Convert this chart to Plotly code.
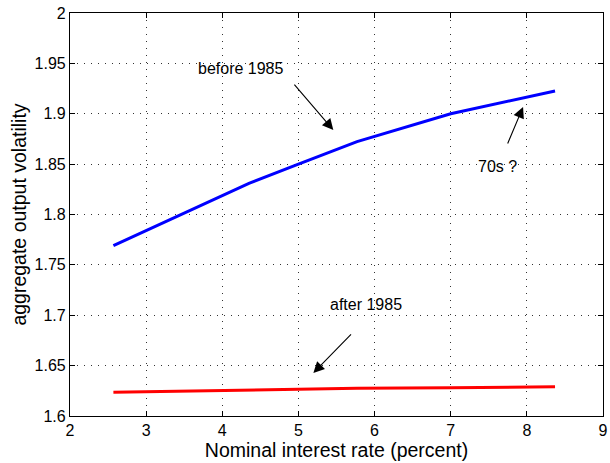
import plotly.graph_objects as go

# Data
before_x = [2.57, 3.0, 4.0, 4.35, 5.0, 5.77, 7.0, 8.0, 8.37]
before_y = [1.769, 1.784, 1.819, 1.831, 1.850, 1.8723, 1.900, 1.917, 1.9226]
after_x = [2.57, 4.0, 5.0, 5.77, 7.0, 8.37]
after_y = [1.6235, 1.625, 1.6265, 1.6275, 1.628, 1.629]

x_ticks = [2, 3, 4, 5, 6, 7, 8, 9]
y_ticks = [1.6, 1.65, 1.7, 1.75, 1.8, 1.85, 1.9, 1.95, 2.0]
y_labels = ["1.6", "1.65", "1.7", "1.75", "1.8", "1.85", "1.9", "1.95", "2"]

FONT = "Liberation Sans, Arial, Helvetica, sans-serif"

fig = go.Figure()
fig.add_trace(go.Scatter(x=before_x, y=before_y, mode="lines",
                         line=dict(color="#0000ff", width=3), showlegend=False))
fig.add_trace(go.Scatter(x=after_x, y=after_y, mode="lines",
                         line=dict(color="#ff0000", width=3), showlegend=False))

# annotations: (text, text_x, text_y, tail_x, tail_y, head_x, head_y)
notes = [
    ("before 1985", 4.24, 1.9454, 4.93, 1.9305, 5.458, 1.8839),
    ("70s ?", 7.61, 1.848, 7.74, 1.869, 7.95, 1.9067),
    ("after 1985", 5.89, 1.7102, 5.71, 1.6824, 5.196, 1.6427),
]
for txt, tx, ty, axx, ayy, hx, hy in notes:
    fig.add_annotation(x=tx, y=ty, text=txt, showarrow=False,
                       font=dict(family=FONT, size=16, color="black"))
    fig.add_annotation(x=hx, y=hy, ax=axx, ay=ayy, axref="x", ayref="y",
                       xref="x", yref="y", text="", showarrow=True,
                       arrowhead=2, arrowsize=2, arrowwidth=1.1,
                       arrowcolor="black", standoff=0, startstandoff=0)

axis_common = dict(showline=True, linecolor="black", linewidth=1.2, mirror="ticks",
                   ticks="inside", ticklen=5, tickcolor="black",
                   showgrid=True, gridcolor="rgba(0,0,0,0.8)", griddash="1px,6px",
                   gridwidth=1, zeroline=False, automargin=False,
                   ticklabeloverflow="allow",
                   tickfont=dict(family=FONT, size=16, color="black"))

fig.update_xaxes(range=[2, 9], tickvals=x_ticks, ticktext=[str(v) for v in x_ticks],
                 title=dict(text="Nominal interest rate (percent)", standoff=2,
                            font=dict(family=FONT, size=19.5, color="black")),
                 **axis_common)
fig.update_yaxes(range=[1.6, 2.0], tickvals=y_ticks, ticktext=y_labels,
                 title=dict(text="aggregate output volatility", standoff=2,
                            font=dict(family=FONT, size=19.5, color="black")),
                 **axis_common)

fig.update_layout(width=610, height=463,
                  margin=dict(l=70, r=7, t=13, b=47),
                  paper_bgcolor="white", plot_bgcolor="white",
                  font=dict(family=FONT, color="black"))

# remove the default 8px page margin so the figure fills the window exactly
fig.write_html("out.html",
               config={"displayModeBar": False},
               post_script="document.body.style.margin='0';document.body.style.overflow='hidden';")
